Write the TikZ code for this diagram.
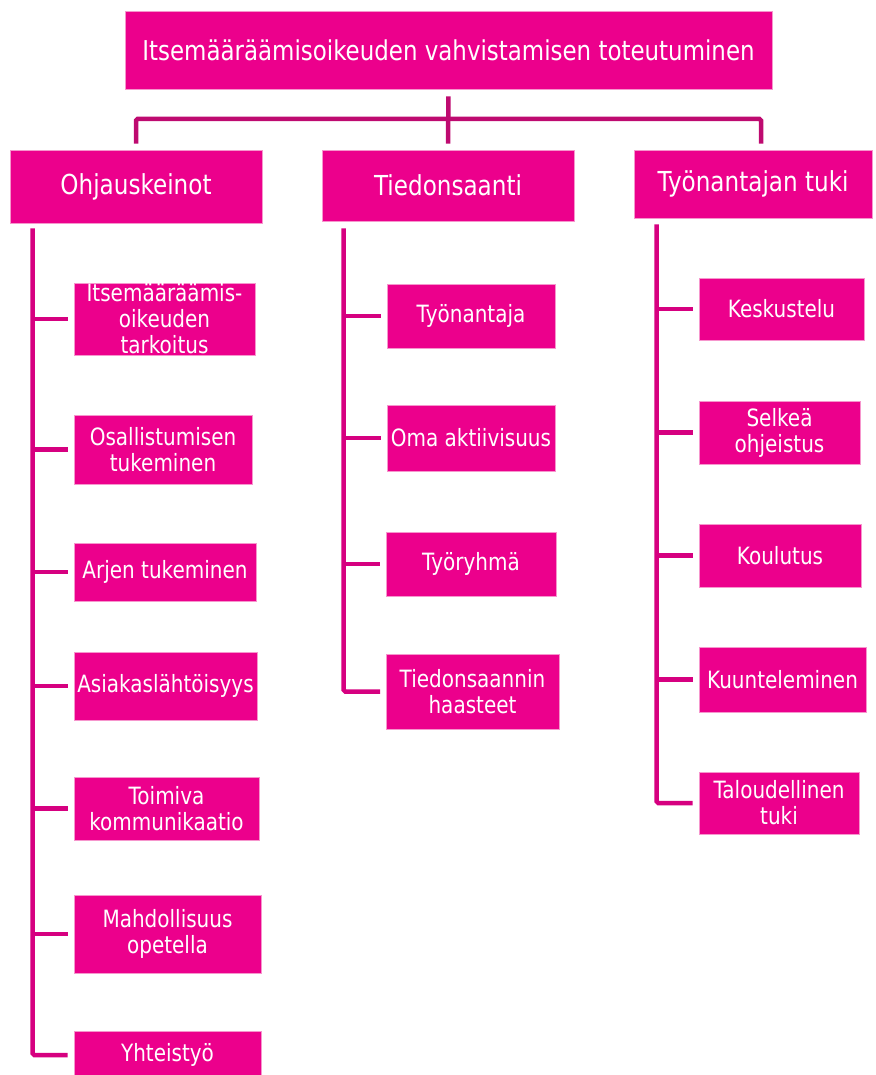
\documentclass[tikz,border=0pt]{standalone}
\usepackage{fontspec}
\setmainfont{DejaVu Sans}[FakeStretch=0.84]
\usepackage{tikz}

\definecolor{pinkfill}{RGB}{236,0,140}
\definecolor{pinkedge}{RGB}{246,150,205}
\definecolor{busline}{RGB}{190,10,112}
\definecolor{stemline}{RGB}{214,0,128}

\begin{document}
\begin{tikzpicture}[
  x=1pt, y=-1pt,
  box/.style={fill=pinkfill, draw=pinkedge, line width=0.6pt, text=white,
    inner sep=0pt, align=center},
  title/.style={box, font=\fontsize{27.3}{31}\selectfont},
  head/.style={box, font=\fontsize{27.5}{31}\selectfont},
  leaf/.style={box, font=\fontsize{23.8}{26}\selectfont},
  bus/.style={draw=busline, line width=4.5pt, rounded corners=1.5pt},
  stem/.style={draw=stemline, line width=4.5pt, rounded corners=1.5pt}
]
\useasboundingbox (0,0) rectangle (875,1075);

\node[title, minimum width=647pt, minimum height=78pt] (root) at (448.5,50)
  {Itsemääräämisoikeuden vahvistamisen toteutuminen};

% level one
\node[head, minimum width=252pt, minimum height=73pt] (ohj) at (136,186.5) {Ohjauskeinot};
\node[head, minimum width=252pt, minimum height=71pt] (tie) at (448,185.5) {Tiedonsaanti};
\node[head, minimum width=238pt, minimum height=68pt] (tyo) at (753,184) {Työnantajan tuki};

% Ohjauskeinot
\node[leaf, minimum width=181pt, minimum height=72pt] (ohj1) at (164.5,319) {Itsemääräämis-\\oikeuden\\tarkoitus};
\node[leaf, minimum width=178pt, minimum height=69pt] (ohj2) at (163,449.5) {Osallistumisen\\tukeminen};
\node[leaf, minimum width=182pt, minimum height=58pt] (ohj3) at (165,572) {Arjen tukeminen};
\node[leaf, minimum width=183pt, minimum height=68pt] (ohj4) at (165.5,686) {Asiakaslähtöisyys};
\node[leaf, minimum width=185pt, minimum height=63pt] (ohj5) at (166.5,808.5) {Toimiva\\kommunikaatio};
\node[leaf, minimum width=187pt, minimum height=78pt] (ohj6) at (167.5,934) {Mahdollisuus\\opetella};
\node[leaf, minimum width=187pt, minimum height=48pt] (ohj7) at (167.5,1055) {Yhteistyö};

% Tiedonsaanti
\node[leaf, minimum width=168pt, minimum height=64pt] (tie1) at (471,316) {Työnantaja};
\node[leaf, minimum width=168pt, minimum height=66pt] (tie2) at (471,438) {Oma aktiivisuus};
\node[leaf, minimum width=170pt, minimum height=64pt] (tie3) at (471,564) {Työryhmä};
\node[leaf, minimum width=173pt, minimum height=75pt] (tie4) at (472.5,691.5) {Tiedonsaannin\\haasteet};

% Työnantajan tuki
\node[leaf, minimum width=165pt, minimum height=62pt] (tyo1) at (781.5,309) {Keskustelu};
\node[leaf, minimum width=161pt, minimum height=63pt] (tyo2) at (779.5,432.5) {Selkeä\\ohjeistus};
\node[leaf, minimum width=162pt, minimum height=63pt] (tyo3) at (780,555.5) {Koulutus};
\node[leaf, minimum width=167pt, minimum height=65pt] (tyo4) at (782.5,679.5) {Kuunteleminen};
\node[leaf, minimum width=160pt, minimum height=62pt] (tyo5) at (779,803) {Taloudellinen\\tuki};

% top connectors
\coordinate (busmid) at (448,119);
\coordinate (tyo-drop) at ([xshift=8pt]tyo.north);
\draw[bus, shorten <=7pt, shorten >=6pt] (root.south) -- (tie.north);
\draw[bus, shorten <=6pt, shorten >=6pt] (ohj.north) |- (busmid) -| (tyo-drop);

% stems
\coordinate (ohj-stem) at ([xshift=23pt, yshift=-5pt]ohj.south west);
\coordinate (tie-stem) at ([xshift=22pt, yshift=-7pt]tie.south west);
\coordinate (tyo-stem) at ([xshift=23pt, yshift=-6pt]tyo.south west);

\draw[stem, shorten >=6pt] (ohj-stem) |- (ohj7.west);
\draw[stem, shorten >=6pt] (ohj-stem |- ohj1.west) -- (ohj1.west);
\draw[stem, shorten >=6pt] (ohj-stem |- ohj2.west) -- (ohj2.west);
\draw[stem, shorten >=6pt] (ohj-stem |- ohj3.west) -- (ohj3.west);
\draw[stem, shorten >=6pt] (ohj-stem |- ohj4.west) -- (ohj4.west);
\draw[stem, shorten >=6pt] (ohj-stem |- ohj5.west) -- (ohj5.west);
\draw[stem, shorten >=6pt] (ohj-stem |- ohj6.west) -- (ohj6.west);

\draw[stem, shorten >=5.5pt] (tie-stem) |- (tie4.west);
\draw[stem, shorten >=5.5pt] (tie-stem |- tie1.west) -- (tie1.west);
\draw[stem, shorten >=5.5pt] (tie-stem |- tie2.west) -- (tie2.west);
\draw[stem, shorten >=5.5pt] (tie-stem |- tie3.west) -- (tie3.west);

\draw[stem, shorten >=6pt] (tyo-stem) |- (tyo5.west);
\draw[stem, shorten >=6pt] (tyo-stem |- tyo1.west) -- (tyo1.west);
\draw[stem, shorten >=6pt] (tyo-stem |- tyo2.west) -- (tyo2.west);
\draw[stem, shorten >=6pt] (tyo-stem |- tyo3.west) -- (tyo3.west);
\draw[stem, shorten >=6pt] (tyo-stem |- tyo4.west) -- (tyo4.west);
\end{tikzpicture}
\end{document}
